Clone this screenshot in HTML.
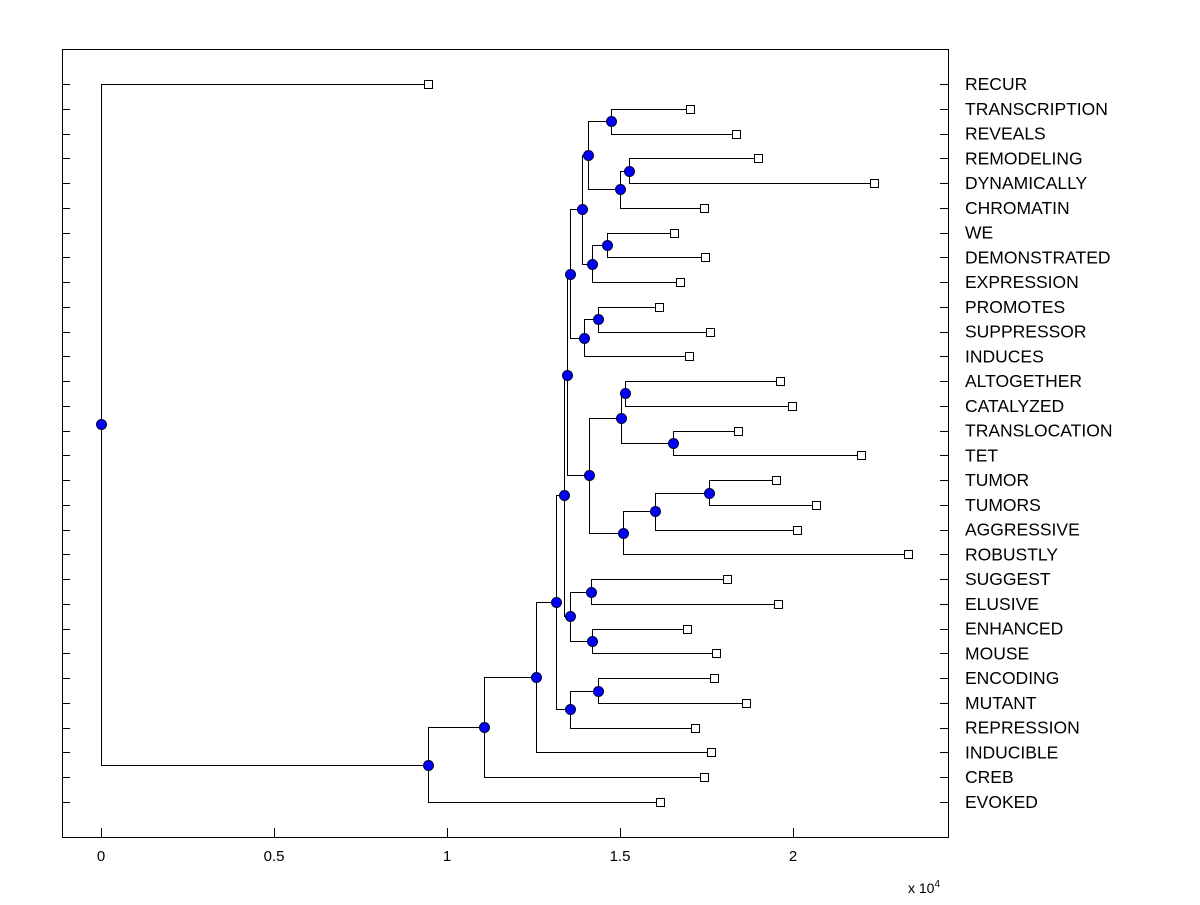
<!DOCTYPE html>
<html><head><meta charset="utf-8"><style>
body{margin:0;background:#fff;}
svg text{font-family:"Liberation Sans",Arial,sans-serif;}
</style></head><body>
<svg id="chart" width="1200" height="900" xmlns="http://www.w3.org/2000/svg">
<rect x="0" y="0" width="1200" height="900" fill="#fff"/>
<rect x="62.5" y="49.5" width="886" height="788" fill="#fff" stroke="#000" stroke-width="1"/>
<g id="axes"></g>
<g id="tree"></g>
<text x="908" y="893" font-size="14">x 10<tspan dy="-6" font-size="10">4</tspan></text>
</svg>
<script>
const leafNames=["RECUR","TRANSCRIPTION","REVEALS","REMODELING","DYNAMICALLY","CHROMATIN","WE","DEMONSTRATED","EXPRESSION","PROMOTES","SUPPRESSOR","INDUCES","ALTOGETHER","CATALYZED","TRANSLOCATION","TET","TUMOR","TUMORS","AGGRESSIVE","ROBUSTLY","SUGGEST","ELUSIVE","ENHANCED","MOUSE","ENCODING","MUTANT","REPRESSION","INDUCIBLE","CREB","EVOKED"];
const leafValues=[0.945,1.702,1.835,1.899,2.234,1.743,1.656,1.746,1.673,1.613,1.760,1.699,1.962,1.997,1.841,2.197,1.951,2.066,2.012,2.332,1.809,1.957,1.694,1.777,1.772,1.864,1.717,1.763,1.743,1.616];
const nodeIds=["root","nA","nB","nC","nD","nE","nF","nG","nJ","nK","nL","nN","nO","nP","nQ","nR","nS","nT","nU","nV","nM","nW","nX","nY","nZ","nAA","nBB","nH","nI"];
const nodeValues=[0,0.945,1.107,1.257,1.315,1.338,1.355,1.436,1.347,1.355,1.355,1.390,1.396,1.408,1.419,1.474,1.500,1.526,1.462,1.436,1.410,1.503,1.509,1.514,1.653,1.601,1.757,1.416,1.419];
const nodeLeft=["L0","nB","nC","nD","nE","nJ","nG","L24","nL","nH","nN","nP","nV","nR","nU","L1","nT","L3","L6","L9","nW","nY","nAA","L12","L14","nBB","L16","L20","L22"];
const nodeRight=["nA","L29","L28","L27","nF","nK","L26","L25","nM","nI","nO","nQ","L11","nS","L8","L2","L5","L4","L7","L10","nX","nZ","L19","L13","L15","L18","L17","L21","L23"];
const xTicks=[0,0.5,1,1.5,2];
const xTickLabels=["0","0.5","1","1.5","2"];

const NS="http://www.w3.org/2000/svg";
const X0=101,XS=346,Y0=84,YS=(802-84)/29,L=62,R=948,T=49,B=837;
const xs=v=>X0+v*XS, ys=i=>Y0+i*YS;
const px=v=>Math.round(v)+0.5;
function mk(tag,attrs,parent){const e=document.createElementNS(NS,tag);for(const k in attrs)e.setAttribute(k,attrs[k]);parent.appendChild(e);return e;}
const axes=document.getElementById('axes'),tree=document.getElementById('tree');
xTicks.forEach((t,i)=>{
  const x=px(xs(t));
  const a=mk('line',{x1:x,x2:x,y1:B,y2:B-9,stroke:'#000'},axes);
  
  
  const tx=mk('text',{x:xs(t),y:861,'font-size':15,'text-anchor':'middle'},axes);
  tx.textContent=xTickLabels[i];
  
  
});
leafNames.forEach((n,i)=>{
  const y=px(ys(i));
  const a=mk('line',{x1:L,x2:L+8,y1:y,y2:y,stroke:'#000'},axes);
  
  
  const b=mk('line',{x1:R-8,x2:R,y1:y,y2:y,stroke:'#000'},axes);
  
  
  const tx=mk('text',{x:965,y:ys(i)+6,'font-size':17.5},axes);
  tx.textContent=n;
  
  
});
function info(id){
  if(id[0]==='L'){const i=+id.slice(1);return {x:xs(leafValues[i]),y:ys(i)};}
  const k=nodeIds.indexOf(id);
  const a=info(nodeLeft[k]),b=info(nodeRight[k]);
  return {x:xs(nodeValues[k]),y:(a.y+b.y)/2,a:a,b:b};
}
const lines=mk('g',{},tree),marks=mk('g',{},tree);
nodeIds.forEach((id,k)=>{
  const n=info(id);
  const v=mk('path',{d:`M${px(n.a.x)} ${px(n.a.y)}H${px(n.x)}V${px(n.b.y)}H${px(n.b.x)}`,fill:'none',stroke:'#000','stroke-width':1},lines);
  
  
  const c=mk('circle',{cx:px(n.x),cy:px(n.y),r:5,fill:'#0000ff',stroke:'#000033','stroke-width':1},marks);
  
  
});
leafNames.forEach((n,i)=>{
  const s=mk('rect',{x:px(xs(leafValues[i]))-4,y:px(ys(i))-4,width:8,height:8,fill:'#fff',stroke:'#000'},marks);
  
  
});
</script>
</body></html>
